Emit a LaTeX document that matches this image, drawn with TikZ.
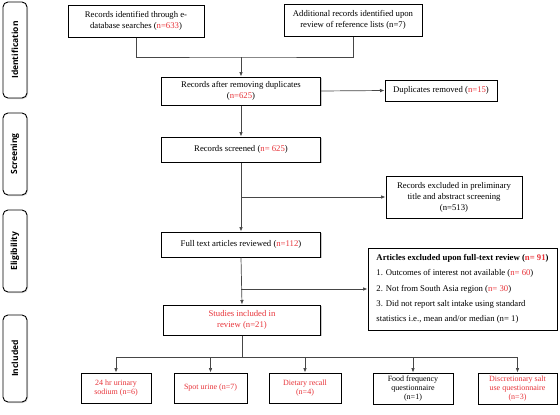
\documentclass[tikz,border=0pt]{standalone}
\usepackage{fontspec}
\setmainfont{Liberation Serif}
\newfontfamily\stagefont{Open Sans}
\usetikzlibrary{shadows, arrows.meta}
\definecolor{nred}{RGB}{232,52,58}
\definecolor{linkgray}{RGB}{70,70,70}
\tikzset{
	box/.style={shape=rectangle, draw=black, line width=1pt, fill=white, align=center, inner sep=2pt,
		drop shadow={shadow xshift=1.2pt, shadow yshift=-1.2pt, fill=black!35, opacity=0.6},
		font=\fontsize{8.7}{11}\selectfont},
	smallbox/.style={box, font=\fontsize{8}{9}\selectfont},
	stage/.style={shape=rectangle, draw=black, line width=0.9pt, rounded corners=5pt, fill=white,
		drop shadow={shadow xshift=1pt, shadow yshift=-1pt, fill=black!30, opacity=0.5},
		minimum width=24pt, font=\stagefont\bfseries\fontsize{8.5}{10}\selectfont},
	link/.style={->, >={Latex[length=4.5pt, width=3.6pt]}, line width=0.7pt, color=linkgray},
	line/.style={line width=0.7pt, color=linkgray}
}
\newcommand{\nr}[1]{\textcolor{nred}{#1}}
\begin{document}
\begin{tikzpicture}[x=1pt, y=-1pt]
			\useasboundingbox (0,0) rectangle (560,415);
			%Stages:
			\path
				(15, 50) node[stage, minimum height=96pt] (sIdent) {\rotatebox{90}{Identification}}
				(15, 154) node[stage, minimum height=82pt] (sScreen) {\rotatebox{90}{Screening}}
				(15, 251) node[stage, minimum height=82pt] (sElig) {\rotatebox{90}{Eligibility}}
				(15, 358.5) node[stage, minimum height=87pt] (sIncl) {\rotatebox{90}{Included}};
			%Main column:
			\path
				(136, 21) node[box, minimum width=136pt, minimum height=32pt] (ids) {Records identified through e-\\database searches (\nr{n=633})}
				(353, 20) node[box, minimum width=138pt, minimum height=32pt] (extra) {Additional records identified upon\\review of reference lists (n=7)}
				(241, 91) node[box, minimum width=159pt, minimum height=28pt] (dedup) {Records after removing duplicates\\(\nr{n=625})}
				(241, 149.5) node[box, minimum width=159pt, minimum height=25pt] (screen) {Records screened (\nr{n= 625})}
				(241, 244.5) node[box, minimum width=159pt, minimum height=25pt] (full) {Full text articles reviewed (\nr{n=112})}
				(242, 320) node[box, minimum width=157pt, minimum height=30pt, text=nred] (incl) {Studies included in\\review (n=21)};
			%Exclusions:
			\path
				(441, 90.5) node[box, minimum width=112pt, minimum height=21pt] (dup) {Duplicates removed (\nr{n=15})}
				(454, 197) node[box, minimum width=136pt, minimum height=42pt] (excl1) {Records excluded in preliminary\\title and abstract screening\\(n=513)}
				(462.5, 289) node[box, minimum width=189pt, minimum height=82pt, align=left, inner sep=5pt, font=\fontsize{8.7}{15.3}\selectfont] (excl2)
					{\textbf{Articles excluded upon full-text review (\nr{n= 91})}\\
					1. Outcomes of interest not available (\nr{n= 60})\\
					2. Not from South Asia region (\nr{n= 30})\\
					3. Did not report salt intake using standard\\
					statistics i.e., mean and/or median (n= 1)};
			%Methods:
			\path
				(116, 388) node[smallbox, minimum width=70pt, minimum height=30pt, text=nred] (urine24) {24 hr urinary\\sodium (n=6)}
				(210.5, 388) node[smallbox, minimum width=73pt, minimum height=30pt, text=nred] (spot) {Spot urine (n=7)}
				(305, 388) node[smallbox, minimum width=72pt, minimum height=30pt, text=nred] (recall) {Dietary recall\\(n=4)}
				(413, 388.5) node[smallbox, minimum width=80pt, minimum height=31pt] (ffq) {Food frequency\\questionnaire\\(n=1)}
				(517.5, 388.5) node[smallbox, minimum width=79pt, minimum height=31pt, text=nred] (salt) {Discretionary salt\\use questionnaire\\(n=3)};
			%Connectors:
			\coordinate (merge) at (241, 57);
			\draw[line] (ids.south) |- (merge) -| (extra.south);
			\draw[link] (merge) -- (dedup.north);
			\draw[link] (dedup.east) -- (dup.west);
			\draw[link] (dedup.south) -- (screen.north);
			\draw[link] (screen.south) -- (full.north);
			\draw[link] (screen.south |- excl1.west) -- (excl1.west);
			\draw[link] (full.south) -- (incl.north);
			\draw[link] (full.south |- excl2.west) -- (excl2.west);
			\draw[line] (incl.south) -- ++(0, 22) coordinate (fork);
			\draw[line] (fork -| urine24.north) -- (fork -| salt.north);
			\foreach \m in {urine24, spot, recall, ffq, salt}
				\draw[link] (fork -| \m.north) -- (\m.north);
\end{tikzpicture}
\end{document}
